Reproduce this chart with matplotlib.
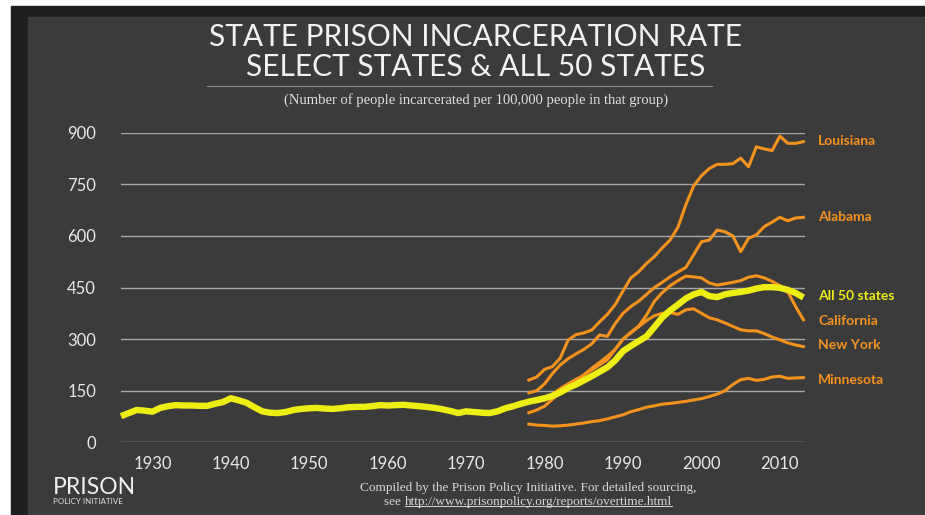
#
# State prison incarceration rate, select states & all 50 states
#
import numpy as np
import matplotlib.pyplot as plt
from matplotlib.patches import Rectangle

# ---- data (rate per 100,000) ----
years_all = list(range(1926, 2014))
rate_all = [76, 85, 94, 92, 89, 100, 105, 108, 107, 107,
            106, 106, 112, 117, 128, 122, 115, 102, 90, 86,
            85, 88, 94, 97, 99, 100, 98, 97, 99, 102,
            103, 103, 105, 108, 107, 108, 109, 107, 105, 103,
            100, 96, 91, 85, 90, 88, 86, 85, 90, 99,
            105, 112, 118, 123, 128, 135, 145, 158, 168, 180,
            192, 205, 218, 238, 265, 280, 294, 308, 335, 363,
            383, 400, 418, 430, 437, 425, 422, 430, 434, 437,
            441, 447, 451, 451, 449, 443, 434, 421]

years_st = list(range(1978, 2014))
louisiana = [181, 190, 212, 220, 245, 297, 313, 318, 326, 350,
             372, 400, 440, 478, 496, 520, 540, 565, 588, 625,
             690, 745, 775, 796, 808, 808, 810, 826, 801, 859,
             853, 848, 890, 869, 869, 874]
alabama = [144, 150, 170, 200, 225, 243, 257, 270, 286, 312,
           308, 345, 375, 395, 410, 430, 450, 465, 481, 495,
           508, 545, 583, 588, 617, 612, 600, 554, 593, 603,
           627, 640, 654, 644, 652, 654]
california = [86, 94, 105, 125, 145, 160, 175, 196, 215, 232,
              250, 270, 300, 320, 338, 370, 410, 435, 455, 470,
              483, 481, 478, 463, 457, 461, 465, 470, 480, 484,
              478, 468, 455, 438, 395, 356]
new_york = [115, 118, 123, 140, 156, 170, 183, 195, 210, 225,
            240, 270, 300, 318, 336, 354, 368, 375, 377, 372,
            385, 388, 375, 362, 356, 347, 337, 327, 324, 324,
            316, 306, 298, 289, 283, 278]
minnesota = [53, 50, 49, 47, 48, 50, 53, 56, 60, 63,
             68, 74, 80, 89, 95, 102, 106, 111, 113, 116,
             119, 123, 127, 133, 140, 150, 168, 182, 186, 180,
             183, 190, 192, 186, 187, 188]

states = ['Louisiana', 'Alabama', 'California', 'New York', 'Minnesota']
state_rates = [louisiana, alabama, california, new_york, minnesota]
label_shift = [3, 0, -4, 4, -8]   # small nudges so labels don't collide

yticks = [0, 150, 300, 450, 600, 750, 900]
xticks = [1930, 1940, 1950, 1960, 1970, 1980, 1990, 2000, 2010]

orange = '#f5921e'
yellow = '#eeee14'
panel = '#3b3b3b'
W, H = 925, 515

fig = plt.figure(figsize=[W/100, H/100], dpi=100, facecolor='white')
# dark frame + panel
fig.patches.append(Rectangle((11/W, 0), 1, 1 - 6/H, transform=fig.transFigure,
                             color='#1f1f1f', zorder=-3))
fig.patches.append(Rectangle((28/W, 0), 1, 1 - 17/H, transform=fig.transFigure,
                             color=panel, zorder=-2))

ax = fig.add_axes([121/W, (H - 442.3)/H, (805 - 121)/W, (442.3 - 132.7)/H])
ax.set_facecolor('none')
ax.set_xlim(1926, 2013.2)
ax.set_ylim(0, 900)

for v in yticks:
    ax.axhline(v, color='#a8a8a8', linewidth=1.0, zorder=1)

ax.plot(years_all, rate_all, '-', color=yellow, linewidth=4.6,
        solid_capstyle='butt', zorder=4, clip_on=False)
for name, r in zip(states, state_rates):
    ax.plot(years_st, r, '-', color=orange, linewidth=2.2, zorder=3, clip_on=False)

# end labels
for name, r, dy in zip(states, state_rates, label_shift):
    ax.text(2014.9, r[-1] + dy * 1.0, name, color=orange, fontsize=10,
            family='Lato', fontweight='bold', va='center', ha='left', clip_on=False)
ax.text(2014.9, rate_all[-1] + 3, 'All 50 states', color=yellow, fontsize=10,
        family='Lato', fontweight='bold', va='center', ha='left', clip_on=False)

for axis in ['top', 'bottom', 'left', 'right']:
    ax.spines[axis].set_visible(False)
ax.set_yticks(yticks)
ax.set_xticks(xticks)
ax.tick_params(length=0, colors='#e8e8e8', labelsize=12, pad=10)
ax.tick_params(axis='y', pad=18)
for lab in ax.get_xticklabels() + ax.get_yticklabels():
    lab.set_family('Lato')

# titles
fig.text(476/W, 1 - 37/H, 'STATE PRISON INCARCERATION RATE', color='#f2f2f2',
         fontsize=21.5, family='Lato', ha='center', va='center')
fig.text(476/W, 1 - 67/H, 'SELECT STATES & ALL 50 STATES', color='#f2f2f2',
         fontsize=21.5, family='Lato', ha='center', va='center')
fig.add_artist(plt.Line2D([207/W, 712/W], [1 - 86/H, 1 - 86/H], color='#8c8c8c',
                          linewidth=0.8, transform=fig.transFigure))
fig.text(476/W, 1 - 100/H, '(Number of people incarcerated per 100,000 people in that group)',
         color='#e0e0e0', fontsize=10.5, family='Liberation Serif', ha='center', va='center')

# footer
fig.text(53/W, 1 - 488/H, 'PRISON', color='#f0f0f0', fontsize=16.5, family='Lato',
         ha='left', va='center')
fig.text(53/W, 1 - 502/H, 'POLICY INITIATIVE', color='#e0e0e0', fontsize=5.8, family='Lato',
         ha='left', va='center')
foot = dict(color='#d8d8d8', fontsize=9.5, family='Liberation Serif', va='center')
fig.text(528/W, 1 - 488/H, 'Compiled by the Prison Policy Initiative. For detailed sourcing,',
         ha='center', **foot)
# second line: "see " + underlined url, centred as a whole
renderer = fig.canvas.get_renderer()
t_full = fig.text(528/W, 1 - 502/H, 'see http://www.prisonpolicy.org/reports/overtime.html',
                  ha='center', **foot)
bb = t_full.get_window_extent(renderer).transformed(fig.transFigure.inverted())
t_full.remove()
fig.text(bb.x0, 1 - 502/H, 'see ', ha='left', **foot)
t_url = fig.text(bb.x1, 1 - 502/H, 'http://www.prisonpolicy.org/reports/overtime.html',
                 ha='right', **foot)
ub = t_url.get_window_extent(renderer).transformed(fig.transFigure.inverted())
fig.add_artist(plt.Line2D([ub.x0, ub.x1], [ub.y0 + 2/H, ub.y0 + 2/H], color='#d8d8d8',
                          linewidth=0.7, transform=fig.transFigure))

plt.savefig('out.png', dpi=100, facecolor=fig.get_facecolor())
